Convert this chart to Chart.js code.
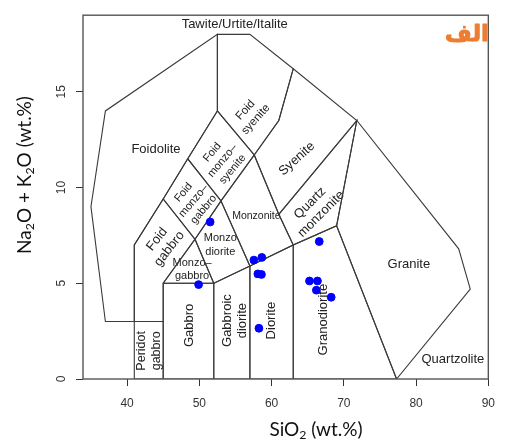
<!DOCTYPE html>
<html>
<head>
<meta charset="utf-8">
<script src="https://cdn.jsdelivr.net/npm/chart.js@4.4.1/dist/chart.umd.min.js"></script>
<style>
  body { margin: 0; background: #fff; }
  canvas { display: block; }
</style>
</head>
<body>
<canvas id="tas" width="505" height="446"></canvas>
<script>
// axis ticks
const xTicks = [40, 50, 60, 70, 80, 90];
const yTicks = [0, 5, 10, 15];

// samples (SiO2 vs Na2O+K2O)
const sampleSiO2 = [51.5, 49.9, 57.55, 58.65, 58.1, 58.6, 58.25, 66.6, 65.25, 66.35, 66.2, 68.25];
const sampleAlk  = [8.2, 4.93, 6.21, 6.35, 5.49, 5.46, 2.65, 7.18, 5.12, 5.12, 4.64, 4.27];

// field boundaries (Middlemost plutonic TAS)
const peridotgabbro   = [[41,0],[41,3],[45,3],[45,0]];
const gabbro          = [[45,0],[45,5],[52,5],[52,0]];
const gabbroicDiorite = [[52,0],[52,5],[57,5.9],[57,0]];
const diorite         = [[57,0],[57,5.9],[63,7],[63,0]];
const granodiorite    = [[63,0],[63,7],[69,8],[77.3,0]];
const granite         = [[77.3,0],[69,8],[71.8,13.5],[85.9,6.8],[87.5,4.7]];
const monzogabbro     = [[45,5],[49.4,7.3],[52,5]];
const monzodiorite    = [[52,5],[49.4,7.3],[53,9.3],[57,5.9]];
const monzonite       = [[57,5.9],[53,9.3],[57.6,11.7],[61,8.6],[63,7]];
const quartzMonzonite = [[63,7],[61,8.6],[71.8,13.5],[69,8]];
const syenite         = [[61,8.6],[57.6,11.7],[61,13.5],[63,16.2],[71.8,13.5]];
const foidGabbro      = [[41,3],[41,7],[45,9.4],[49.4,7.3],[45,5],[45,3]];
const foidMonzogabbro = [[45,9.4],[48.4,11.5],[53,9.3],[49.4,7.3]];
const foidMonzosyenite = [[48.4,11.5],[52.5,14],[57.6,11.7],[53,9.3]];
const foidSyenite     = [[52.5,14],[52.5,18],[57,18],[63,16.2],[61,13.5],[57.6,11.7]];
const foidolite       = [[41,3],[37,3],[35,9],[37,14],[52.5,18],[52.5,14],[48.4,11.5],[45,9.4],[41,7]];

const fields = [peridotgabbro, gabbro, gabbroicDiorite, diorite, granodiorite, granite,
  monzogabbro, monzodiorite, monzonite, quartzMonzonite, syenite,
  foidGabbro, foidMonzogabbro, foidMonzosyenite, foidSyenite, foidolite];

// field names, placed in data units
const fieldLabels = [
  { t: ['Tawite/Urtite/Italite'], x: 54.9, y: 18.5, r: 0, s: 13 },
  { t: ['Foidolite'], x: 44.0, y: 12.0, r: 0, s: 13 },
  { t: ['Foid', 'syenite'], x: 57.1, y: 13.8, r: -48, s: 11.5 },
  { t: ['Foid', 'monzo\u2013', 'syenite'], x: 53.2, y: 11.4, r: -50, s: 11 },
  { t: ['Foid', 'monzo\u2013', 'gabbro'], x: 49.2, y: 9.3, r: -50, s: 11 },
  { t: ['Foid', 'gabbro'], x: 45.0, y: 7.05, r: -52, s: 13 },
  { t: ['Monzonite'], x: 57.9, y: 8.5, r: 0, s: 10.5 },
  { t: ['Monzo', 'diorite'], x: 52.9, y: 7.0, r: 0, s: 11 },
  { t: ['Monzo\u2013', 'gabbro'], x: 49.0, y: 5.7, r: 0, s: 11 },
  { t: ['Syenite'], x: 63.5, y: 11.5, r: -42, s: 13 },
  { t: ['Quartz', 'monzonite'], x: 66.1, y: 8.9, r: -45, s: 13 },
  { t: ['Granite'], x: 79.0, y: 6.0, r: 0, s: 13 },
  { t: ['Quartzolite'], x: 85.1, y: 1.0, r: 0, s: 13 },
  { t: ['Granodiorite'], x: 67.2, y: 3.1, r: -90, s: 13 },
  { t: ['Diorite'], x: 60.0, y: 3.05, r: -90, s: 13 },
  { t: ['Gabbroic', 'diorite'], x: 54.95, y: 3.05, r: -90, s: 13 },
  { t: ['Gabbro'], x: 48.65, y: 2.8, r: -90, s: 13 },
  { t: ['Peridot', 'gabbro'], x: 43.1, y: 1.47, r: -90, s: 12.5 }
];

const toXY = pts => pts.concat([pts[0]]).map(p => ({ x: p[0], y: p[1] }));

const datasets = [{
  label: 'samples',
  data: sampleSiO2.map((v, i) => ({ x: v, y: sampleAlk[i] })),
  backgroundColor: '#0000ff',
  borderColor: '#0000ff',
  pointRadius: 3.9,
  showLine: false,
  order: 0
}].concat(fields.map(f => ({
  data: toXY(f),
  showLine: true,
  fill: false,
  borderColor: '#3a3a3a',
  borderWidth: 1.1,
  pointRadius: 0,
  tension: 0,
  order: 1
})));

// text with subscripts, parts: [text, isSub]
function subText(ctx, parts, cx, cy, size, rot) {
  const fam = 'Lato, "Open Sans", sans-serif';
  let total = 0;
  parts.forEach(p => {
    ctx.font = (p[1] ? size * 0.65 : size) + 'px ' + fam;
    total += ctx.measureText(p[0]).width;
  });
  ctx.save();
  ctx.translate(cx, cy);
  ctx.rotate(rot * Math.PI / 180);
  ctx.textBaseline = 'middle';
  ctx.textAlign = 'left';
  ctx.fillStyle = '#111';
  let x = -total / 2;
  parts.forEach(p => {
    ctx.font = (p[1] ? size * 0.65 : size) + 'px ' + fam;
    ctx.fillText(p[0], x, p[1] ? size * 0.28 : 0);
    x += ctx.measureText(p[0]).width;
  });
  ctx.restore();
}

const overlay = {
  id: 'overlay',
  beforeDatasetsDraw(chart) {
    const ctx = chart.ctx;
    const sx = chart.scales.x, sy = chart.scales.y;
    ctx.save();
    ctx.fillStyle = '#222';
    ctx.textAlign = 'center';
    ctx.textBaseline = 'middle';
    fieldLabels.forEach(l => {
      const lh = l.s * 1.2;
      ctx.save();
      ctx.translate(sx.getPixelForValue(l.x), sy.getPixelForValue(l.y));
      ctx.rotate(l.r * Math.PI / 180);
      ctx.font = l.s + 'px "Liberation Sans", Arial, sans-serif';
      l.t.forEach((line, i) => {
        ctx.fillText(line, 0, (i - (l.t.length - 1) / 2) * lh);
      });
      ctx.restore();
    });
    ctx.restore();
  },
  afterDraw(chart) {
    const ctx = chart.ctx;
    const a = chart.chartArea;
    ctx.save();
    ctx.strokeStyle = '#555';
    ctx.lineWidth = 1.4;
    ctx.strokeRect(a.left, a.top, a.right - a.left, a.bottom - a.top);
    ctx.restore();

    subText(ctx, [['SiO', false], ['2', true], [' (wt.%)', false]], 316, 430, 19, 0);
    subText(ctx, [['Na', false], ['2', true], ['O + K', false], ['2', true], ['O (wt.%)', false]], 25, 175, 19, -90);

    // orange Arabic tag, top right
    ctx.save();
    ctx.fillStyle = '#ED7D31';
    ctx.strokeStyle = '#ED7D31';
    ctx.lineWidth = 1;
    ctx.lineJoin = 'round';
    ctx.font = 'bold 23px "DejaVu Sans", sans-serif';
    ctx.textAlign = 'center';
    ctx.textBaseline = 'middle';
    ctx.fillText('\u0627\u0644\u0641', 467, 35);
    ctx.strokeText('\u0627\u0644\u0641', 467, 35);
    ctx.restore();
  }
};

new Chart(document.getElementById('tas').getContext('2d'), {
  type: 'scatter',
  data: { datasets: datasets },
  plugins: [overlay],
  options: {
    responsive: false,
    animation: false,
    layout: { padding: { top: 12, right: 9, left: 0, bottom: 0 } },
    plugins: { legend: { display: false }, tooltip: { enabled: false } },
    scales: {
      x: {
        type: 'linear',
        min: 33.9,
        max: 90,
        afterBuildTicks: s => { s.ticks = xTicks.map(v => ({ value: v })); },
        afterFit: s => { s.height = 67; },
        border: { display: false },
        grid: { drawOnChartArea: false, drawTicks: true, tickLength: 7, color: '#333' },
        ticks: { autoSkip: false, maxRotation: 0, padding: 10, color: '#333',
                 font: { family: '"Liberation Sans", Arial, sans-serif', size: 12 } }
      },
      y: {
        type: 'linear',
        min: 0,
        max: 19,
        afterBuildTicks: s => { s.ticks = yTicks.map(v => ({ value: v })); },
        afterFit: s => { s.width = 83; },
        border: { display: false },
        grid: { drawOnChartArea: false, drawTicks: true, tickLength: 7, color: '#333' },
        ticks: { autoSkip: false, minRotation: 90, maxRotation: 90, crossAlign: 'center', padding: 8,
                 color: '#333', font: { family: '"Liberation Sans", Arial, sans-serif', size: 12 } }
      }
    }
  }
});
</script>
</body>
</html>
